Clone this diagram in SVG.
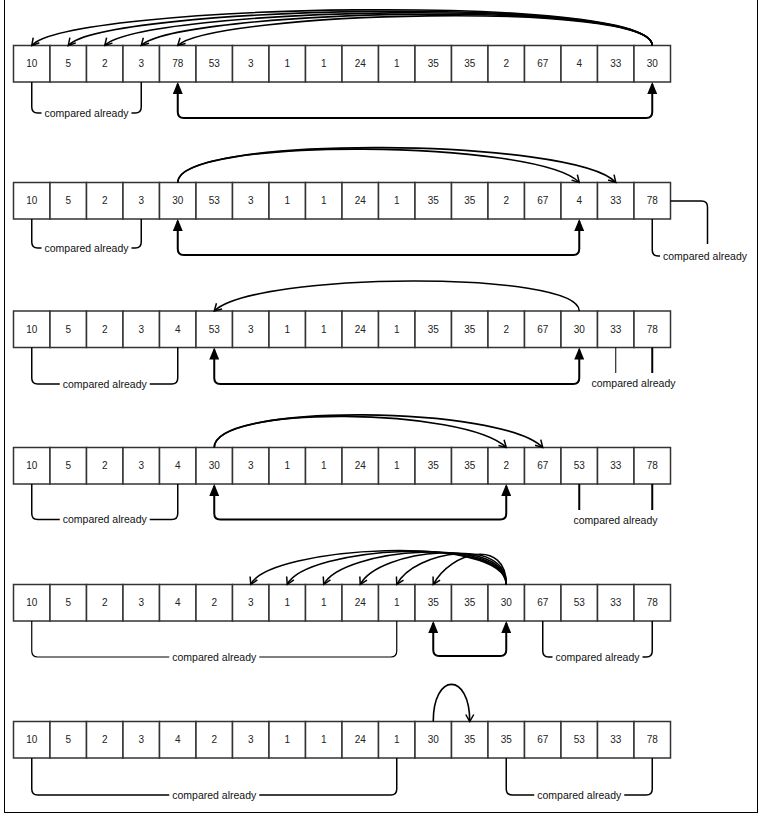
<svg xmlns="http://www.w3.org/2000/svg" width="761" height="815" viewBox="0 0 761 815">
<style>
.cell rect{fill:#fff;stroke:#333;stroke-width:1.5}
.cell text{font-family:"Liberation Sans",Arial,sans-serif;font-size:10px;fill:#222;text-anchor:middle}
.arc{fill:none;stroke:#000;stroke-width:1.6;marker-end:url(#open)}
.dbl{fill:none;stroke:#000;stroke-width:2;marker-start:url(#tri);marker-end:url(#tri)}
.br{fill:none;stroke:#000;stroke-width:1.5}
.lbl{font-family:"Liberation Sans",Arial,sans-serif;font-size:10.5px;fill:#111;text-anchor:middle}
</style>
<defs>
<marker id="open" markerUnits="userSpaceOnUse" viewBox="0 0 10 10" markerWidth="10" markerHeight="10" refX="8.5" refY="5" orient="auto">
<path d="M1.5,1 L8.5,5 L1.5,9" fill="none" stroke="#000" stroke-width="1.5"/>
</marker>
<marker id="tri" markerUnits="userSpaceOnUse" viewBox="0 0 12 10" markerWidth="12" markerHeight="10" refX="10" refY="5" orient="auto-start-reverse">
<path d="M0,0 L12,5 L0,10 z" fill="#000"/>
</marker>
</defs>
<rect x="4.5" y="-2" width="753" height="814.5" fill="#fff" stroke="#000" stroke-width="1"/>

<g id="row1" transform="translate(0,45.5)">
<g id="r1c0" class="cell"><rect x="13.5" width="36.5" height="36.5"/><text x="31.75" y="21.75">10</text></g>
<g id="r1c1" class="cell"><rect x="50" width="36.5" height="36.5"/><text x="68.25" y="21.75">5</text></g>
<g id="r1c2" class="cell"><rect x="86.5" width="36.5" height="36.5"/><text x="104.75" y="21.75">2</text></g>
<g id="r1c3" class="cell"><rect x="123" width="36.5" height="36.5"/><text x="141.25" y="21.75">3</text></g>
<g id="r1c4" class="cell"><rect x="159.5" width="36.5" height="36.5"/><text x="177.75" y="21.75">78</text></g>
<g id="r1c5" class="cell"><rect x="196" width="36.5" height="36.5"/><text x="214.25" y="21.75">53</text></g>
<g id="r1c6" class="cell"><rect x="232.5" width="36.5" height="36.5"/><text x="250.75" y="21.75">3</text></g>
<g id="r1c7" class="cell"><rect x="269" width="36.5" height="36.5"/><text x="287.25" y="21.75">1</text></g>
<g id="r1c8" class="cell"><rect x="305.5" width="36.5" height="36.5"/><text x="323.75" y="21.75">1</text></g>
<g id="r1c9" class="cell"><rect x="342" width="36.5" height="36.5"/><text x="360.25" y="21.75">24</text></g>
<g id="r1c10" class="cell"><rect x="378.5" width="36.5" height="36.5"/><text x="396.75" y="21.75">1</text></g>
<g id="r1c11" class="cell"><rect x="415" width="36.5" height="36.5"/><text x="433.25" y="21.75">35</text></g>
<g id="r1c12" class="cell"><rect x="451.5" width="36.5" height="36.5"/><text x="469.75" y="21.75">35</text></g>
<g id="r1c13" class="cell"><rect x="488" width="36.5" height="36.5"/><text x="506.25" y="21.75">2</text></g>
<g id="r1c14" class="cell"><rect x="524.5" width="36.5" height="36.5"/><text x="542.75" y="21.75">67</text></g>
<g id="r1c15" class="cell"><rect x="561" width="36.5" height="36.5"/><text x="579.25" y="21.75">4</text></g>
<g id="r1c16" class="cell"><rect x="597.5" width="36.5" height="36.5"/><text x="615.75" y="21.75">33</text></g>
<g id="r1c17" class="cell"><rect x="634" width="36.5" height="36.5"/><text x="652.25" y="21.75">30</text></g>
</g>

<g id="row2" transform="translate(0,182.5)">
<g id="r2c0" class="cell"><rect x="13.5" width="36.5" height="36.5"/><text x="31.75" y="21.75">10</text></g>
<g id="r2c1" class="cell"><rect x="50" width="36.5" height="36.5"/><text x="68.25" y="21.75">5</text></g>
<g id="r2c2" class="cell"><rect x="86.5" width="36.5" height="36.5"/><text x="104.75" y="21.75">2</text></g>
<g id="r2c3" class="cell"><rect x="123" width="36.5" height="36.5"/><text x="141.25" y="21.75">3</text></g>
<g id="r2c4" class="cell"><rect x="159.5" width="36.5" height="36.5"/><text x="177.75" y="21.75">30</text></g>
<g id="r2c5" class="cell"><rect x="196" width="36.5" height="36.5"/><text x="214.25" y="21.75">53</text></g>
<g id="r2c6" class="cell"><rect x="232.5" width="36.5" height="36.5"/><text x="250.75" y="21.75">3</text></g>
<g id="r2c7" class="cell"><rect x="269" width="36.5" height="36.5"/><text x="287.25" y="21.75">1</text></g>
<g id="r2c8" class="cell"><rect x="305.5" width="36.5" height="36.5"/><text x="323.75" y="21.75">1</text></g>
<g id="r2c9" class="cell"><rect x="342" width="36.5" height="36.5"/><text x="360.25" y="21.75">24</text></g>
<g id="r2c10" class="cell"><rect x="378.5" width="36.5" height="36.5"/><text x="396.75" y="21.75">1</text></g>
<g id="r2c11" class="cell"><rect x="415" width="36.5" height="36.5"/><text x="433.25" y="21.75">35</text></g>
<g id="r2c12" class="cell"><rect x="451.5" width="36.5" height="36.5"/><text x="469.75" y="21.75">35</text></g>
<g id="r2c13" class="cell"><rect x="488" width="36.5" height="36.5"/><text x="506.25" y="21.75">2</text></g>
<g id="r2c14" class="cell"><rect x="524.5" width="36.5" height="36.5"/><text x="542.75" y="21.75">67</text></g>
<g id="r2c15" class="cell"><rect x="561" width="36.5" height="36.5"/><text x="579.25" y="21.75">4</text></g>
<g id="r2c16" class="cell"><rect x="597.5" width="36.5" height="36.5"/><text x="615.75" y="21.75">33</text></g>
<g id="r2c17" class="cell"><rect x="634" width="36.5" height="36.5"/><text x="652.25" y="21.75">78</text></g>
</g>

<g id="row3" transform="translate(0,311)">
<g id="r3c0" class="cell"><rect x="13.5" width="36.5" height="36.5"/><text x="31.75" y="21.75">10</text></g>
<g id="r3c1" class="cell"><rect x="50" width="36.5" height="36.5"/><text x="68.25" y="21.75">5</text></g>
<g id="r3c2" class="cell"><rect x="86.5" width="36.5" height="36.5"/><text x="104.75" y="21.75">2</text></g>
<g id="r3c3" class="cell"><rect x="123" width="36.5" height="36.5"/><text x="141.25" y="21.75">3</text></g>
<g id="r3c4" class="cell"><rect x="159.5" width="36.5" height="36.5"/><text x="177.75" y="21.75">4</text></g>
<g id="r3c5" class="cell"><rect x="196" width="36.5" height="36.5"/><text x="214.25" y="21.75">53</text></g>
<g id="r3c6" class="cell"><rect x="232.5" width="36.5" height="36.5"/><text x="250.75" y="21.75">3</text></g>
<g id="r3c7" class="cell"><rect x="269" width="36.5" height="36.5"/><text x="287.25" y="21.75">1</text></g>
<g id="r3c8" class="cell"><rect x="305.5" width="36.5" height="36.5"/><text x="323.75" y="21.75">1</text></g>
<g id="r3c9" class="cell"><rect x="342" width="36.5" height="36.5"/><text x="360.25" y="21.75">24</text></g>
<g id="r3c10" class="cell"><rect x="378.5" width="36.5" height="36.5"/><text x="396.75" y="21.75">1</text></g>
<g id="r3c11" class="cell"><rect x="415" width="36.5" height="36.5"/><text x="433.25" y="21.75">35</text></g>
<g id="r3c12" class="cell"><rect x="451.5" width="36.5" height="36.5"/><text x="469.75" y="21.75">35</text></g>
<g id="r3c13" class="cell"><rect x="488" width="36.5" height="36.5"/><text x="506.25" y="21.75">2</text></g>
<g id="r3c14" class="cell"><rect x="524.5" width="36.5" height="36.5"/><text x="542.75" y="21.75">67</text></g>
<g id="r3c15" class="cell"><rect x="561" width="36.5" height="36.5"/><text x="579.25" y="21.75">30</text></g>
<g id="r3c16" class="cell"><rect x="597.5" width="36.5" height="36.5"/><text x="615.75" y="21.75">33</text></g>
<g id="r3c17" class="cell"><rect x="634" width="36.5" height="36.5"/><text x="652.25" y="21.75">78</text></g>
</g>

<g id="row4" transform="translate(0,447.5)">
<g id="r4c0" class="cell"><rect x="13.5" width="36.5" height="36.5"/><text x="31.75" y="21.75">10</text></g>
<g id="r4c1" class="cell"><rect x="50" width="36.5" height="36.5"/><text x="68.25" y="21.75">5</text></g>
<g id="r4c2" class="cell"><rect x="86.5" width="36.5" height="36.5"/><text x="104.75" y="21.75">2</text></g>
<g id="r4c3" class="cell"><rect x="123" width="36.5" height="36.5"/><text x="141.25" y="21.75">3</text></g>
<g id="r4c4" class="cell"><rect x="159.5" width="36.5" height="36.5"/><text x="177.75" y="21.75">4</text></g>
<g id="r4c5" class="cell"><rect x="196" width="36.5" height="36.5"/><text x="214.25" y="21.75">30</text></g>
<g id="r4c6" class="cell"><rect x="232.5" width="36.5" height="36.5"/><text x="250.75" y="21.75">3</text></g>
<g id="r4c7" class="cell"><rect x="269" width="36.5" height="36.5"/><text x="287.25" y="21.75">1</text></g>
<g id="r4c8" class="cell"><rect x="305.5" width="36.5" height="36.5"/><text x="323.75" y="21.75">1</text></g>
<g id="r4c9" class="cell"><rect x="342" width="36.5" height="36.5"/><text x="360.25" y="21.75">24</text></g>
<g id="r4c10" class="cell"><rect x="378.5" width="36.5" height="36.5"/><text x="396.75" y="21.75">1</text></g>
<g id="r4c11" class="cell"><rect x="415" width="36.5" height="36.5"/><text x="433.25" y="21.75">35</text></g>
<g id="r4c12" class="cell"><rect x="451.5" width="36.5" height="36.5"/><text x="469.75" y="21.75">35</text></g>
<g id="r4c13" class="cell"><rect x="488" width="36.5" height="36.5"/><text x="506.25" y="21.75">2</text></g>
<g id="r4c14" class="cell"><rect x="524.5" width="36.5" height="36.5"/><text x="542.75" y="21.75">67</text></g>
<g id="r4c15" class="cell"><rect x="561" width="36.5" height="36.5"/><text x="579.25" y="21.75">53</text></g>
<g id="r4c16" class="cell"><rect x="597.5" width="36.5" height="36.5"/><text x="615.75" y="21.75">33</text></g>
<g id="r4c17" class="cell"><rect x="634" width="36.5" height="36.5"/><text x="652.25" y="21.75">78</text></g>
</g>

<g id="row5" transform="translate(0,584.5)">
<g id="r5c0" class="cell"><rect x="13.5" width="36.5" height="36.5"/><text x="31.75" y="21.75">10</text></g>
<g id="r5c1" class="cell"><rect x="50" width="36.5" height="36.5"/><text x="68.25" y="21.75">5</text></g>
<g id="r5c2" class="cell"><rect x="86.5" width="36.5" height="36.5"/><text x="104.75" y="21.75">2</text></g>
<g id="r5c3" class="cell"><rect x="123" width="36.5" height="36.5"/><text x="141.25" y="21.75">3</text></g>
<g id="r5c4" class="cell"><rect x="159.5" width="36.5" height="36.5"/><text x="177.75" y="21.75">4</text></g>
<g id="r5c5" class="cell"><rect x="196" width="36.5" height="36.5"/><text x="214.25" y="21.75">2</text></g>
<g id="r5c6" class="cell"><rect x="232.5" width="36.5" height="36.5"/><text x="250.75" y="21.75">3</text></g>
<g id="r5c7" class="cell"><rect x="269" width="36.5" height="36.5"/><text x="287.25" y="21.75">1</text></g>
<g id="r5c8" class="cell"><rect x="305.5" width="36.5" height="36.5"/><text x="323.75" y="21.75">1</text></g>
<g id="r5c9" class="cell"><rect x="342" width="36.5" height="36.5"/><text x="360.25" y="21.75">24</text></g>
<g id="r5c10" class="cell"><rect x="378.5" width="36.5" height="36.5"/><text x="396.75" y="21.75">1</text></g>
<g id="r5c11" class="cell"><rect x="415" width="36.5" height="36.5"/><text x="433.25" y="21.75">35</text></g>
<g id="r5c12" class="cell"><rect x="451.5" width="36.5" height="36.5"/><text x="469.75" y="21.75">35</text></g>
<g id="r5c13" class="cell"><rect x="488" width="36.5" height="36.5"/><text x="506.25" y="21.75">30</text></g>
<g id="r5c14" class="cell"><rect x="524.5" width="36.5" height="36.5"/><text x="542.75" y="21.75">67</text></g>
<g id="r5c15" class="cell"><rect x="561" width="36.5" height="36.5"/><text x="579.25" y="21.75">53</text></g>
<g id="r5c16" class="cell"><rect x="597.5" width="36.5" height="36.5"/><text x="615.75" y="21.75">33</text></g>
<g id="r5c17" class="cell"><rect x="634" width="36.5" height="36.5"/><text x="652.25" y="21.75">78</text></g>
</g>

<g id="row6" transform="translate(0,721.5)">
<g id="r6c0" class="cell"><rect x="13.5" width="36.5" height="36.5"/><text x="31.75" y="21.75">10</text></g>
<g id="r6c1" class="cell"><rect x="50" width="36.5" height="36.5"/><text x="68.25" y="21.75">5</text></g>
<g id="r6c2" class="cell"><rect x="86.5" width="36.5" height="36.5"/><text x="104.75" y="21.75">2</text></g>
<g id="r6c3" class="cell"><rect x="123" width="36.5" height="36.5"/><text x="141.25" y="21.75">3</text></g>
<g id="r6c4" class="cell"><rect x="159.5" width="36.5" height="36.5"/><text x="177.75" y="21.75">4</text></g>
<g id="r6c5" class="cell"><rect x="196" width="36.5" height="36.5"/><text x="214.25" y="21.75">2</text></g>
<g id="r6c6" class="cell"><rect x="232.5" width="36.5" height="36.5"/><text x="250.75" y="21.75">3</text></g>
<g id="r6c7" class="cell"><rect x="269" width="36.5" height="36.5"/><text x="287.25" y="21.75">1</text></g>
<g id="r6c8" class="cell"><rect x="305.5" width="36.5" height="36.5"/><text x="323.75" y="21.75">1</text></g>
<g id="r6c9" class="cell"><rect x="342" width="36.5" height="36.5"/><text x="360.25" y="21.75">24</text></g>
<g id="r6c10" class="cell"><rect x="378.5" width="36.5" height="36.5"/><text x="396.75" y="21.75">1</text></g>
<g id="r6c11" class="cell"><rect x="415" width="36.5" height="36.5"/><text x="433.25" y="21.75">30</text></g>
<g id="r6c12" class="cell"><rect x="451.5" width="36.5" height="36.5"/><text x="469.75" y="21.75">35</text></g>
<g id="r6c13" class="cell"><rect x="488" width="36.5" height="36.5"/><text x="506.25" y="21.75">35</text></g>
<g id="r6c14" class="cell"><rect x="524.5" width="36.5" height="36.5"/><text x="542.75" y="21.75">67</text></g>
<g id="r6c15" class="cell"><rect x="561" width="36.5" height="36.5"/><text x="579.25" y="21.75">53</text></g>
<g id="r6c16" class="cell"><rect x="597.5" width="36.5" height="36.5"/><text x="615.75" y="21.75">33</text></g>
<g id="r6c17" class="cell"><rect x="634" width="36.5" height="36.5"/><text x="652.25" y="21.75">78</text></g>
</g>

<g id="connectors">
<!-- row 1 -->
<path class="arc" d="M652.25,45.5 C652.25,-8 66.75,4 31.75,45.5"/>
<path class="arc" d="M652.25,45.5 C652.25,-6 103.25,6 68.25,45.5"/>
<path class="arc" d="M652.25,45.5 C652.25,-4 139.75,8 104.75,45.5"/>
<path class="arc" d="M652.25,45.5 C652.25,-2 176.25,10 141.25,45.5"/>
<path class="arc" d="M652.25,45.5 C652.25,0 212.75,12 177.75,45.5"/>
<path class="dbl" d="M177.75,84 L177.75,112 Q177.75,118 183.75,118 L646.25,118 Q652.25,118 652.25,112 L652.25,84"/>
<path class="br" d="M31.75,82 L31.75,107 Q31.75,113 37.75,113 L41.5,113 M131.5,113 L135.25,113 Q141.25,113 141.25,107 L141.25,82"/>
<text class="lbl" x="86.5" y="116.7">compared already</text>

<!-- row 2 -->
<path class="arc" d="M177.75,182.5 C177.75,136 539.25,140 579.25,182.5"/>
<path class="arc" d="M177.75,182.5 C177.75,134 575.75,138 615.75,182.5"/>
<path class="dbl" d="M177.75,221 L177.75,249 Q177.75,255 183.75,255 L573.25,255 Q579.25,255 579.25,249 L579.25,221"/>
<path class="br" d="M31.75,219 L31.75,242 Q31.75,248 37.75,248 L41.5,248 M131.5,248 L135.25,248 Q141.25,248 141.25,242 L141.25,219"/>
<text class="lbl" x="86.5" y="251.7">compared already</text>
<path class="br" d="M670.5,201 L701.5,201 Q707.5,201 707.5,207 L707.5,244 M652.25,219 L652.25,250 Q652.25,256 658.25,256 L660,256"/>
<text class="lbl" x="705" y="259.7">compared already</text>

<!-- row 3 -->
<path class="arc" d="M579.25,311 C579.25,270 254.25,272 214.25,311"/>
<path class="dbl" d="M214.25,349.5 L214.25,378 Q214.25,384 220.25,384 L573.25,384 Q579.25,384 579.25,378 L579.25,349.5"/>
<path class="br" d="M31.75,347.5 L31.75,378 Q31.75,384 37.75,384 L59.75,384 M149.75,384 L171.75,384 Q177.75,384 177.75,378 L177.75,347.5"/>
<text class="lbl" x="104.75" y="387.7">compared already</text>
<path class="br" d="M615.75,347.5 L615.75,373" style="stroke-width:1"/>
<path class="br" d="M652.25,347.5 L652.25,373" style="stroke-width:2"/>
<text class="lbl" x="633.5" y="387.2">compared already</text>

<!-- row 4 -->
<path class="arc" d="M214.25,447.5 C214.25,404 466.25,408 506.25,447.5"/>
<path class="arc" d="M214.25,447.5 C214.25,402 502.75,406 542.75,447.5"/>
<path class="dbl" d="M214.25,486 L214.25,513.5 Q214.25,519.5 220.25,519.5 L500.25,519.5 Q506.25,519.5 506.25,513.5 L506.25,486"/>
<path class="br" d="M31.75,484 L31.75,513.5 Q31.75,519.5 37.75,519.5 L59.75,519.5 M149.75,519.5 L171.75,519.5 Q177.75,519.5 177.75,513.5 L177.75,484"/>
<text class="lbl" x="104.75" y="523.2">compared already</text>
<path class="br" d="M579.25,484 L579.25,510 M652.25,484 L652.25,510" style="stroke-width:2"/>
<text class="lbl" x="615.5" y="523.7">compared already</text>

<!-- row 5 -->
<path class="arc" d="M506.25,584.5 C506.25,533 268.75,546 250.75,584.5"/>
<path class="arc" d="M506.25,584.5 C506.25,534 305.25,547 287.25,584.5"/>
<path class="arc" d="M506.25,584.5 C506.25,535 341.75,548 323.75,584.5"/>
<path class="arc" d="M506.25,584.5 C506.25,536 378.25,549 360.25,584.5"/>
<path class="arc" d="M506.25,584.5 C506.25,537 414.75,550 396.75,584.5"/>
<path class="arc" d="M506.25,584.5 C506.25,538 451.25,551 433.25,584.5"/>
<path class="dbl" d="M433.25,623 L433.25,650 Q433.25,656 439.25,656 L500.25,656 Q506.25,656 506.25,650 L506.25,623"/>
<path class="br" d="M396.75,621 L396.75,651 Q396.75,657 390.75,657 L259.25,657 M169.25,657 L37.75,657 Q31.75,657 31.75,651 L31.75,621" style="stroke-width:1.2"/>
<text class="lbl" x="214.25" y="660.7">compared already</text>
<path class="br" d="M542.75,621 L542.75,651 Q542.75,657 548.75,657 L552.5,657 M642.5,657 L646.25,657 Q652.25,657 652.25,651 L652.25,621"/>
<text class="lbl" x="597.5" y="660.7">compared already</text>

<!-- row 6 -->
<path class="arc" d="M433.25,721.5 C433.25,672 469.75,672 469.75,721.5"/>
<path class="br" d="M31.75,758 L31.75,789 Q31.75,795 37.75,795 L169.25,795 M259.25,795 L390.75,795 Q396.75,795 396.75,789 L396.75,758"/>
<text class="lbl" x="214.25" y="798.7">compared already</text>
<path class="br" d="M506.25,758 L506.25,789 Q506.25,795 512.25,795 L534.25,795 M624.25,795 L646.25,795 Q652.25,795 652.25,789 L652.25,758"/>
<text class="lbl" x="579.25" y="798.7">compared already</text>
</g>
</svg>
